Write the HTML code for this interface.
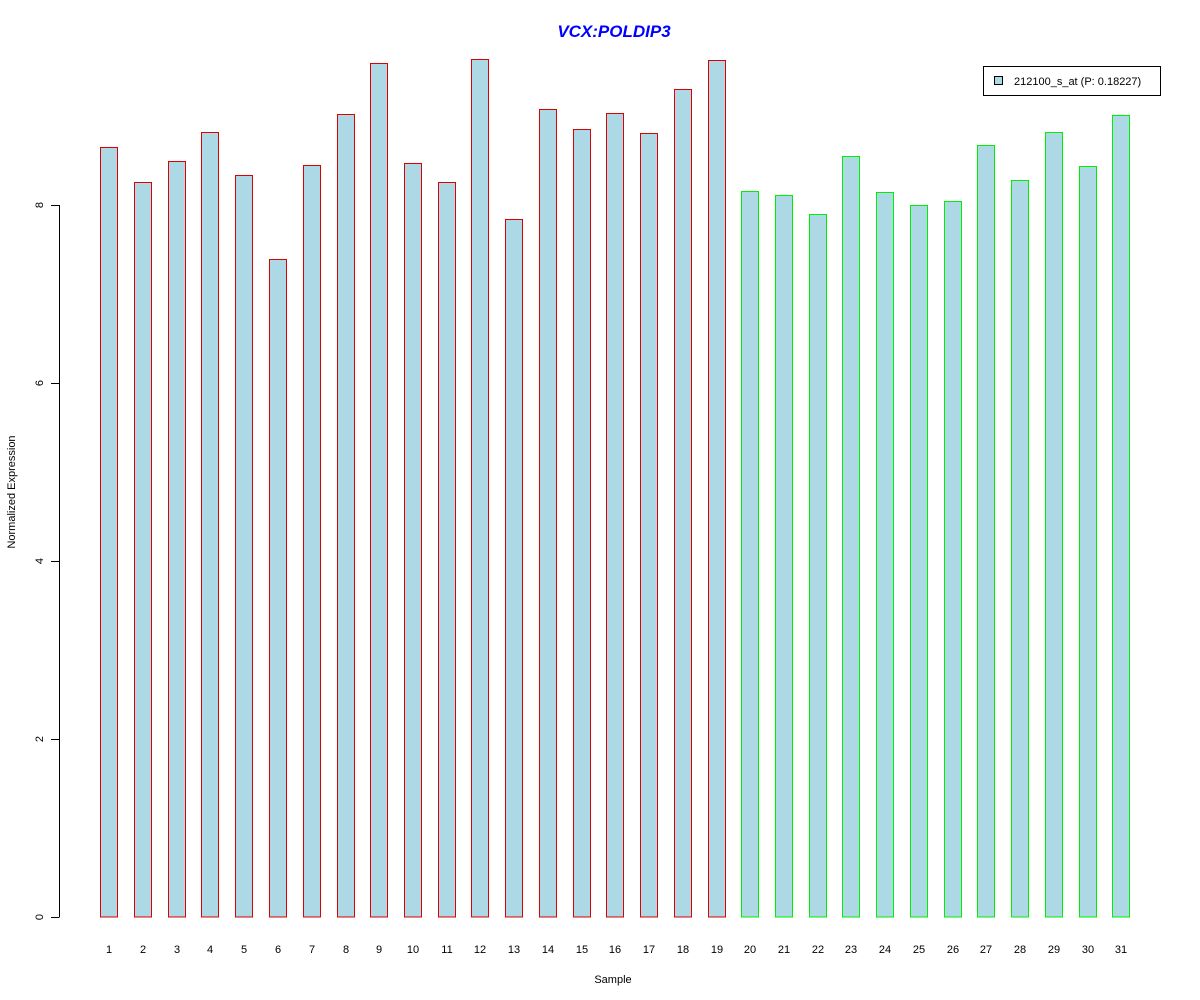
<!DOCTYPE html>
<html><head><meta charset="utf-8"><style>body{margin:0;background:#fff}svg{display:block}</style></head><body>
<svg width="1200" height="1000" xmlns="http://www.w3.org/2000/svg" font-family="Liberation Sans, sans-serif">
<rect width="1200" height="1000" fill="#fff"/>
<text x="614" y="37" text-anchor="middle" font-size="17" font-weight="bold" font-style="italic" fill="#0000ff">VCX:POLDIP3</text>
<g fill="#add8e6" stroke="#dd0000" shape-rendering="crispEdges">
<rect x="100.5" y="147.5" width="17" height="769.5"/>
<rect x="134.5" y="182.5" width="17" height="734.5"/>
<rect x="168.5" y="161.5" width="17" height="755.5"/>
<rect x="201.5" y="132.5" width="17" height="784.5"/>
<rect x="235.5" y="175.5" width="17" height="741.5"/>
<rect x="269.5" y="259.5" width="17" height="657.5"/>
<rect x="303.5" y="165.5" width="17" height="751.5"/>
<rect x="337.5" y="114.5" width="17" height="802.5"/>
<rect x="370.5" y="63.5" width="17" height="853.5"/>
<rect x="404.5" y="163.5" width="17" height="753.5"/>
<rect x="438.5" y="182.5" width="17" height="734.5"/>
<rect x="471.5" y="59.5" width="17" height="857.5"/>
<rect x="505.5" y="219.5" width="17" height="697.5"/>
<rect x="539.5" y="109.5" width="17" height="807.5"/>
<rect x="573.5" y="129.5" width="17" height="787.5"/>
<rect x="606.5" y="113.5" width="17" height="803.5"/>
<rect x="640.5" y="133.5" width="17" height="783.5"/>
<rect x="674.5" y="89.5" width="17" height="827.5"/>
<rect x="708.5" y="60.5" width="17" height="856.5"/>
</g>
<g fill="#add8e6" stroke="#00ee00" shape-rendering="crispEdges">
<rect x="741.5" y="191.5" width="17" height="725.5"/>
<rect x="775.5" y="195.5" width="17" height="721.5"/>
<rect x="809.5" y="214.5" width="17" height="702.5"/>
<rect x="842.5" y="156.5" width="17" height="760.5"/>
<rect x="876.5" y="192.5" width="17" height="724.5"/>
<rect x="910.5" y="205.5" width="17" height="711.5"/>
<rect x="944.5" y="201.5" width="17" height="715.5"/>
<rect x="977.5" y="145.5" width="17" height="771.5"/>
<rect x="1011.5" y="180.5" width="17" height="736.5"/>
<rect x="1045.5" y="132.5" width="17" height="784.5"/>
<rect x="1079.5" y="166.5" width="17" height="750.5"/>
<rect x="1112.5" y="115.5" width="17" height="801.5"/>
</g>
<g stroke="#000" shape-rendering="crispEdges">
<line x1="59.5" y1="205" x2="59.5" y2="917.5"/>
<line x1="51" y1="917.5" x2="59" y2="917.5"/><line x1="51" y1="739.5" x2="59" y2="739.5"/><line x1="51" y1="561.5" x2="59" y2="561.5"/><line x1="51" y1="383.5" x2="59" y2="383.5"/><line x1="51" y1="205.5" x2="59" y2="205.5"/>
</g>
<g font-size="11" text-anchor="middle">
<text transform="translate(43,917) rotate(-90)">0</text>
<text transform="translate(43,739) rotate(-90)">2</text>
<text transform="translate(43,561) rotate(-90)">4</text>
<text transform="translate(43,383) rotate(-90)">6</text>
<text transform="translate(43,205) rotate(-90)">8</text>
<text transform="translate(15,492) rotate(-90)">Normalized Expression</text>
<text x="613" y="983">Sample</text>
</g>
<g font-size="11" text-anchor="middle">
<text x="109" y="953">1</text><text x="143" y="953">2</text><text x="177" y="953">3</text><text x="210" y="953">4</text><text x="244" y="953">5</text><text x="278" y="953">6</text><text x="312" y="953">7</text><text x="346" y="953">8</text><text x="379" y="953">9</text><text x="413" y="953">10</text><text x="447" y="953">11</text><text x="480" y="953">12</text><text x="514" y="953">13</text><text x="548" y="953">14</text><text x="582" y="953">15</text><text x="615" y="953">16</text><text x="649" y="953">17</text><text x="683" y="953">18</text><text x="717" y="953">19</text><text x="750" y="953">20</text><text x="784" y="953">21</text><text x="818" y="953">22</text><text x="851" y="953">23</text><text x="885" y="953">24</text><text x="919" y="953">25</text><text x="953" y="953">26</text><text x="986" y="953">27</text><text x="1020" y="953">28</text><text x="1054" y="953">29</text><text x="1088" y="953">30</text><text x="1121" y="953">31</text>
</g>
<rect x="983.5" y="66.5" width="177" height="29" fill="#fff" stroke="#000" shape-rendering="crispEdges"/>
<rect x="994.5" y="76.5" width="8" height="8" fill="#add8e6" stroke="#000" shape-rendering="crispEdges"/>
<text x="1014" y="85" font-size="11">212100_s_at (P: 0.18227)</text>
</svg>
</body></html>
